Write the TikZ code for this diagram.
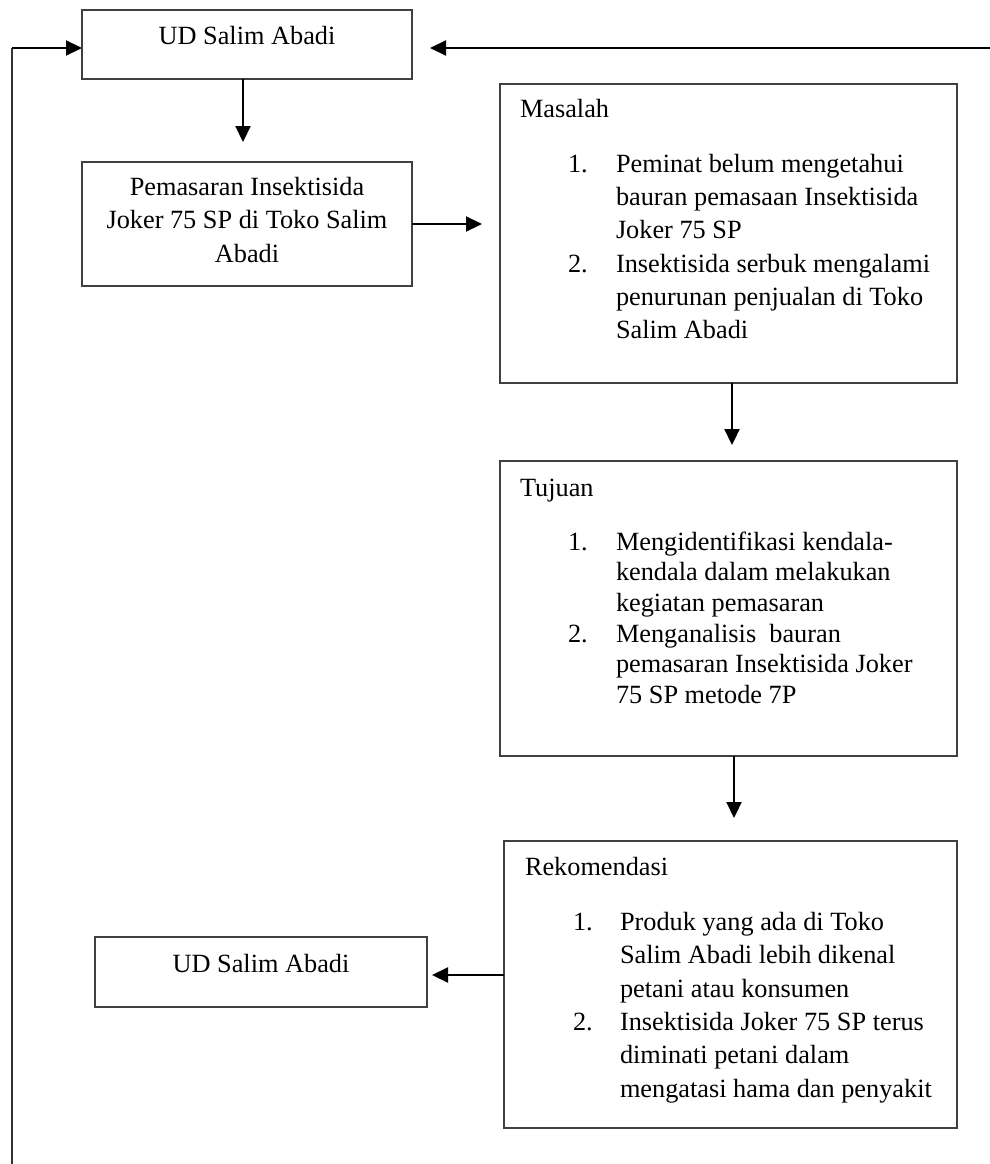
\documentclass[tikz,border=0pt]{standalone}
\usepackage{fontspec}
\setmainfont{Liberation Serif}
\usetikzlibrary{arrows.meta}
\begin{document}
\begin{tikzpicture}[x=1pt,y=-1pt,
  box/.style={draw=black!75, line width=1.2pt, rectangle, inner sep=0pt, outer sep=0pt},
  txt/.style={inner sep=0pt, outer sep=0pt, font=\fontsize{26.3}{33.3}\selectfont},
  conn/.style={line width=2.2pt, -{Triangle[length=16pt,width=15pt]}},
  side/.style={line width=1.6pt, draw=black!80}]
\useasboundingbox (0,0) rectangle (990,1164);
% boxes
\node[box, minimum width=330, minimum height=69] (ud1) at (247,44.5) {};
\node[box, minimum width=330, minimum height=124] (pem) at (247,224) {};
\node[box, minimum width=457, minimum height=299] (mas) at (728.5,233.5) {};
\node[box, minimum width=457, minimum height=295] (tuj) at (728.5,608.5) {};
\node[box, minimum width=453, minimum height=287] (rek) at (730.5,984.5) {};
\node[box, minimum width=332, minimum height=70] (ud2) at (261,972) {};
% texts
\node[txt, anchor=base] (t1) at (247,45) {UD Salim Abadi};
\node[txt, anchor=base] (t2a) at (247,195) {Pemasaran Insektisida};
\node[txt, anchor=base] (t2b) at (247,228) {Joker 75 SP di Toko Salim};
\node[txt, anchor=base] (t2c) at (247,262) {Abadi};
% Masalah
\node[txt, anchor=base west] (m0) at (520,117) {Masalah};
\node[txt, anchor=base west] (m1n) at (568,172) {1.};
\node[txt, anchor=base west] (m1a) at (616,172) {Peminat belum mengetahui};
\node[txt, anchor=base west] (m1b) at (616,205) {bauran pemasaan Insektisida};
\node[txt, anchor=base west] (m1c) at (616,238) {Joker 75 SP};
\node[txt, anchor=base west] (m2n) at (568,272) {2.};
\node[txt, anchor=base west] (m2a) at (616,272) {Insektisida serbuk mengalami};
\node[txt, anchor=base west] (m2b) at (616,305) {penurunan penjualan di Toko};
\node[txt, anchor=base west] (m2c) at (616,338) {Salim Abadi};
% Tujuan
\node[txt, anchor=base west] (j0) at (520,496) {Tujuan};
\node[txt, anchor=base west] (j1n) at (568,550) {1.};
\node[txt, anchor=base west] (j1a) at (616,550) {Mengidentifikasi kendala-};
\node[txt, anchor=base west] (j1b) at (616,580.5) {kendala dalam melakukan};
\node[txt, anchor=base west] (j1c) at (616,611) {kegiatan pemasaran};
\node[txt, anchor=base west] (j2n) at (568,642) {2.};
\node[txt, anchor=base west] (j2a) at (616,642) {Menganalisis\ \ bauran};
\node[txt, anchor=base west] (j2b) at (616,672.5) {pemasaran Insektisida Joker};
\node[txt, anchor=base west] (j2c) at (616,703) {75 SP metode 7P};
% Rekomendasi
\node[txt, anchor=base west] (r0) at (525,875) {Rekomendasi};
\node[txt, anchor=base west] (r1n) at (573,930) {1.};
\node[txt, anchor=base west] (r1a) at (620,930) {Produk yang ada di Toko};
\node[txt, anchor=base west] (r1b) at (620,963.5) {Salim Abadi lebih dikenal};
\node[txt, anchor=base west] (r1c) at (620,997) {petani atau konsumen};
\node[txt, anchor=base west] (r2n) at (573,1030) {2.};
\node[txt, anchor=base west] (r2a) at (620,1030) {Insektisida Joker 75 SP terus};
\node[txt, anchor=base west] (r2b) at (620,1063.5) {diminati petani dalam};
\node[txt, anchor=base west] (r2c) at (620,1097) {mengatasi hama dan penyakit};
\node[txt, anchor=base] (t6) at (261,972) {UD Salim Abadi};
% free ends
\coordinate (rtop) at (990,48);
\coordinate (lbot) at (12,1164);
% connectors
\draw[conn, shorten >=20pt] (ud1.south -| 243,0) -- (243,162);
\draw[conn, shorten >=18pt] (pem.east) -- (pem.east -| mas.west);
\draw[conn, shorten >=16pt] (732,383) -- (tuj.north -| 732,0);
\draw[conn, shorten >=23pt] (734,756) -- (rek.north -| 734,0);
\draw[conn, shorten >=5pt] (rek.west |- 0,975) -- (ud2.east |- 0,975);
\draw[conn, shorten >=18pt] (rtop) -- (ud1.east |- rtop);
\draw[side] (lbot) -- (12,48);
\draw[conn] (12,48) -- (ud1.west |- rtop);
\end{tikzpicture}
\end{document}
